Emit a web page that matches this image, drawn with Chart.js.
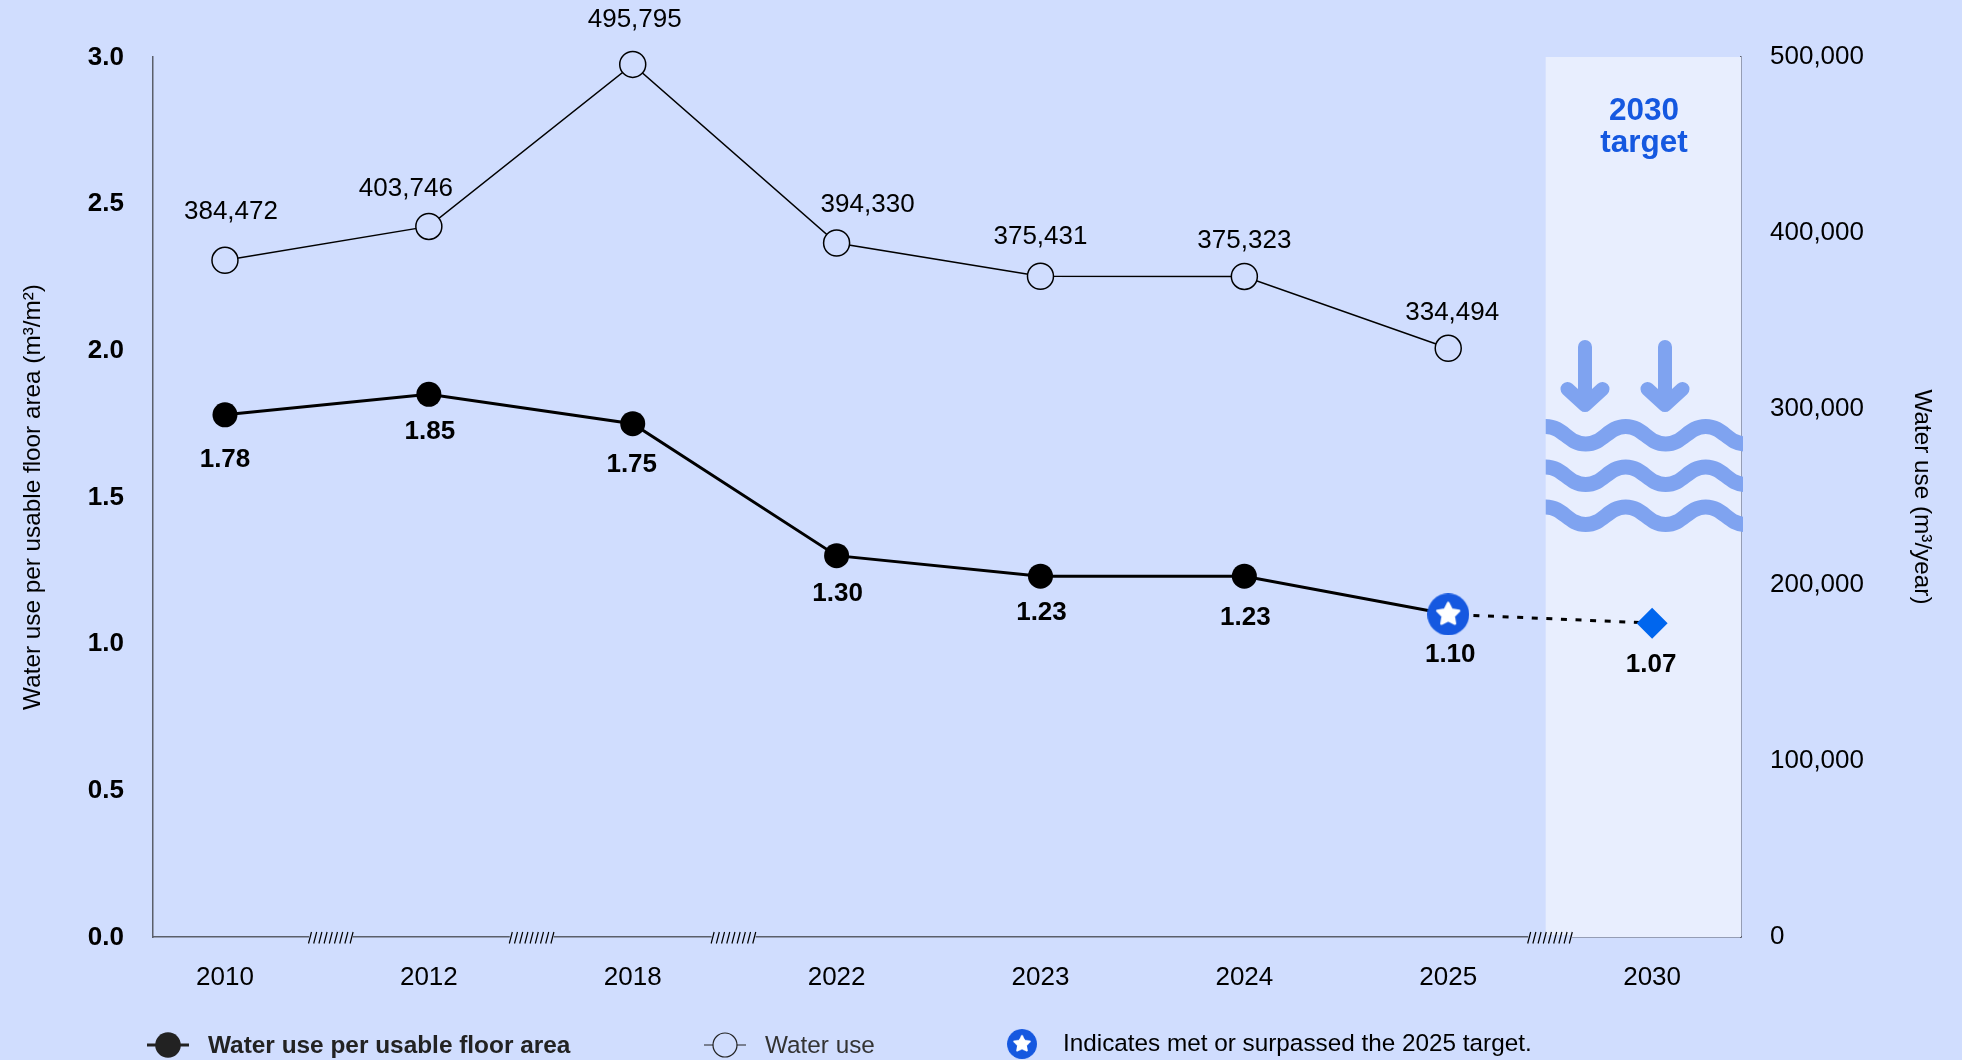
<!DOCTYPE html>
<html>
<head>
<meta charset="utf-8">
<title>Water use</title>
<script src="https://cdn.jsdelivr.net/npm/chart.js@4"></script>
<style>
  html, body { margin: 0; padding: 0; background: #d0ddfe; }
  canvas { display: block; }
</style>
</head>
<body>
<canvas id="waterChart" width="1962" height="1060"></canvas>
<script>
// values
const categories = ['2010', '2012', '2018', '2022', '2023', '2024', '2025', '2030'];
const usePerArea = [1.78, 1.85, 1.75, 1.30, 1.23, 1.23, 1.10];
const targetLine = [null, null, null, null, null, null, 1.10, 1.07];
const waterUse = [384472, 403746, 495795, 394330, 375431, 375323, 334494];
const leftTicks = [0, 0.5, 1, 1.5, 2, 2.5, 3];
const rightTicks = [0, 100000, 200000, 300000, 400000, 500000];
const axisBreaks = [0.52, 1.505, 2.495, 6.5];

// label nudges in pixels, relative to the point
const useLabelNudge = [[6, -49], [-23, -38], [2, -45], [31, -38], [0, -39], [0, -36], [4, -35]];
const areaLabelNudge = [[0, 45], [1, 37], [-1, 41], [1, 38], [1, 37], [1, 42], [2, 40], [-1, 42]];

const BG = '#d0ddfe';
const BAND = '#e8eefe';
const BLUE = '#1558e0';
const WAVE = '#7fa3f0';
const AXIS = '#5a5f6a';
const FONT = '"Liberation Sans", Arial, sans-serif';

function toPoints(values) {
  return values.map((v, i) => ({ x: i, y: v }));
}

// blue circle with a white star, used for the 2025 point and the legend
function makeStarMarker() {
  const c = document.createElement('canvas');
  c.width = 42;
  c.height = 42;
  const g = c.getContext('2d');
  g.fillStyle = BLUE;
  g.beginPath();
  g.arc(21, 21, 21, 0, Math.PI * 2);
  g.fill();
  g.fillStyle = '#fff';
  g.strokeStyle = '#fff';
  g.lineWidth = 2.5;
  g.lineJoin = 'round';
  g.beginPath();
  for (let i = 0; i < 10; i++) {
    const r = i % 2 ? 5.8 : 11.5;
    const a = -Math.PI / 2 + i * Math.PI / 5;
    g.lineTo(21 + r * Math.cos(a), 21 + r * Math.sin(a));
  }
  g.closePath();
  g.fill();
  g.stroke();
  return c;
}
const starMarker = makeStarMarker();

const bandPlugin = {
  id: 'targetBand',
  beforeDatasetsDraw(chart) {
    const ctx = chart.ctx;
    const area = chart.chartArea;
    const left = chart.scales.x.getPixelForValue(6.478);
    ctx.save();
    ctx.fillStyle = BAND;
    ctx.fillRect(left, area.top, area.right - left, area.bottom - area.top);

    // target heading
    ctx.fillStyle = BLUE;
    ctx.font = 'bold 31.5px ' + FONT;
    ctx.textAlign = 'center';
    ctx.fillText('2030', 1644, 120);
    ctx.fillText('target', 1644, 152);

    // arrows
    ctx.strokeStyle = WAVE;
    ctx.lineWidth = 14;
    ctx.lineCap = 'round';
    ctx.lineJoin = 'round';
    [1585, 1665].forEach(x => {
      ctx.beginPath();
      ctx.moveTo(x, 347);
      ctx.lineTo(x, 405);
      ctx.moveTo(x - 17.5, 389);
      ctx.lineTo(x, 405);
      ctx.lineTo(x + 17.5, 389);
      ctx.stroke();
    });

    // waves
    ctx.beginPath();
    ctx.rect(left, 410, area.right - left + 2, 130);
    ctx.clip();
    ctx.lineCap = 'butt';
    ctx.lineWidth = 15;
    [426.5, 467, 507].forEach(y => {
      ctx.beginPath();
      ctx.moveTo(left - 40, y + 17.5);
      for (let i = 0, x = left - 40; i < 7; i++, x += 40) {
        const y0 = i % 2 ? y : y + 17.5;
        const y1 = i % 2 ? y + 17.5 : y;
        ctx.bezierCurveTo(x + 18, y0, x + 22, y1, x + 40, y1);
      }
      ctx.stroke();
    });
    ctx.restore();
  }
};

const breakPlugin = {
  id: 'axisBreaks',
  afterDatasetsDraw(chart) {
    const ctx = chart.ctx;
    const y = chart.chartArea.bottom;
    ctx.save();
    axisBreaks.forEach(v => {
      const cx = chart.scales.x.getPixelForValue(v);
      ctx.fillStyle = BG;
      ctx.fillRect(cx - 22, y - 2, 44, 4);
      ctx.strokeStyle = '#000';
      ctx.lineWidth = 1.2;
      ctx.beginPath();
      for (let i = 0; i < 9; i++) {
        const x = cx - 21 + i * 5.2;
        ctx.moveTo(x - 1.5, y + 6.5);
        ctx.lineTo(x + 1.5, y - 5);
      }
      ctx.stroke();
    });
    ctx.restore();
  }
};

const labelPlugin = {
  id: 'pointLabels',
  afterDatasetsDraw(chart) {
    const ctx = chart.ctx;
    ctx.save();
    ctx.textAlign = 'center';
    ctx.textBaseline = 'middle';
    ctx.fillStyle = '#000';

    ctx.font = '26px ' + FONT;
    chart.getDatasetMeta(2).data.forEach((pt, i) => {
      const n = useLabelNudge[i];
      ctx.fillText(waterUse[i].toLocaleString('en-US'), pt.x + n[0], pt.y + n[1]);
    });

    ctx.font = 'bold 26px ' + FONT;
    chart.getDatasetMeta(0).data.forEach((pt, i) => {
      const n = areaLabelNudge[i];
      ctx.fillText(usePerArea[i].toFixed(2), pt.x + n[0], pt.y + n[1]);
    });
    const last = chart.getDatasetMeta(1).data[7];
    ctx.fillText(targetLine[7].toFixed(2), last.x + areaLabelNudge[7][0], last.y + areaLabelNudge[7][1]);
    ctx.restore();
  }
};

const legendPlugin = {
  id: 'bottomLegend',
  afterDraw(chart) {
    const ctx = chart.ctx;
    const y = 1045;
    ctx.save();
    ctx.textBaseline = 'middle';
    ctx.textAlign = 'left';

    ctx.strokeStyle = '#222';
    ctx.fillStyle = '#222';
    ctx.lineWidth = 3;
    ctx.beginPath();
    ctx.moveTo(147, y);
    ctx.lineTo(189, y);
    ctx.stroke();
    ctx.beginPath();
    ctx.arc(168, y, 12.8, 0, Math.PI * 2);
    ctx.fill();
    ctx.font = 'bold 24.4px ' + FONT;
    ctx.fillText('Water use per usable floor area', 208, y + 1);

    ctx.lineWidth = 1.2;
    ctx.beginPath();
    ctx.moveTo(704, y);
    ctx.lineTo(746, y);
    ctx.stroke();
    ctx.fillStyle = BG;
    ctx.beginPath();
    ctx.arc(725, y, 12, 0, Math.PI * 2);
    ctx.fill();
    ctx.stroke();
    ctx.fillStyle = '#333';
    ctx.font = '24.3px ' + FONT;
    ctx.fillText('Water use', 765, y + 1);

    ctx.drawImage(starMarker, 1007, 1029, 30, 30);
    ctx.fillStyle = '#000';
    ctx.fillText('Indicates met or surpassed the 2025 target.', 1063, y - 1);
    ctx.restore();
  }
};

const chart = new Chart(document.getElementById('waterChart').getContext('2d'), {
  type: 'line',
  data: {
    datasets: [
      {
        label: 'Water use per usable floor area',
        data: toPoints(usePerArea),
        yAxisID: 'y',
        clip: false,
        borderColor: '#000',
        borderWidth: 3,
        pointBackgroundColor: '#000',
        pointBorderWidth: 0,
        pointRadius: usePerArea.map((v, i) => i === 6 ? 21 : 12.5),
        pointStyle: usePerArea.map((v, i) => i === 6 ? starMarker : 'circle'),
        order: 1
      },
      {
        label: '2030 target',
        data: toPoints(targetLine),
        yAxisID: 'y',
        clip: false,
        borderColor: '#000',
        borderWidth: 3,
        borderDash: [6, 8.6],
        borderDashOffset: 4,
        pointRadius: targetLine.map((v, i) => i === 7 ? 15.5 : 0),
        pointStyle: 'rectRot',
        pointBackgroundColor: '#0066ee',
        pointBorderWidth: 0,
        order: 2
      },
      {
        label: 'Water use',
        data: toPoints(waterUse),
        yAxisID: 'y2',
        clip: false,
        borderColor: '#000',
        borderWidth: 1.5,
        pointRadius: 13,
        pointBackgroundColor: BG,
        pointBorderColor: '#000',
        pointBorderWidth: 1.5,
        order: 3
      }
    ]
  },
  options: {
    responsive: false,
    animation: false,
    layout: { padding: { top: 57, left: 0, right: 0, bottom: 0 } },
    plugins: { legend: { display: false }, tooltip: { enabled: false }, title: { display: false } },
    scales: {
      x: {
        type: 'linear',
        min: -0.353,
        max: 7.436,
        grid: { display: false },
        border: { color: AXIS, width: 1.5 },
        afterBuildTicks(s) { s.ticks = categories.map((c, i) => ({ value: i })); },
        afterFit(s) { s.height = 123; },
        ticks: {
          callback: v => categories[v],
          color: '#000',
          padding: 17,
          maxRotation: 0,
          autoSkip: false,
          font: { family: FONT, size: 26 }
        }
      },
      y: {
        min: 0,
        max: 3,
        position: 'left',
        grid: { display: false },
        border: { color: AXIS, width: 1.5 },
        afterBuildTicks(s) { s.ticks = leftTicks.map(v => ({ value: v })); },
        afterFit(s) { s.width = 153; },
        title: {
          display: true,
          text: 'Water use per usable floor area (m³/m²)',
          color: '#000',
          padding: { top: 19, bottom: 0 },
          font: { family: FONT, size: 24.3 }
        },
        ticks: {
          callback: v => v.toFixed(1),
          color: '#000',
          padding: 21,
          labelOffset: 0.5,
          font: { family: FONT, size: 26, weight: 'bold' }
        }
      },
      y2: {
        min: 0,
        max: 500000,
        position: 'right',
        grid: { display: false },
        border: { color: AXIS, width: 1.5 },
        afterBuildTicks(s) { s.ticks = rightTicks.map(v => ({ value: v })); },
        afterFit(s) { s.width = 221; },
        title: {
          display: true,
          text: 'Water use (m³/year)',
          color: '#000',
          padding: { top: 26, bottom: 0 },
          font: { family: FONT, size: 24.3 }
        },
        ticks: {
          callback: v => v.toLocaleString('en-US'),
          color: '#000',
          padding: 21,
          font: { family: FONT, size: 26 }
        }
      }
    }
  },
  plugins: [bandPlugin, breakPlugin, labelPlugin, legendPlugin]
});
</script>
</body>
</html>
